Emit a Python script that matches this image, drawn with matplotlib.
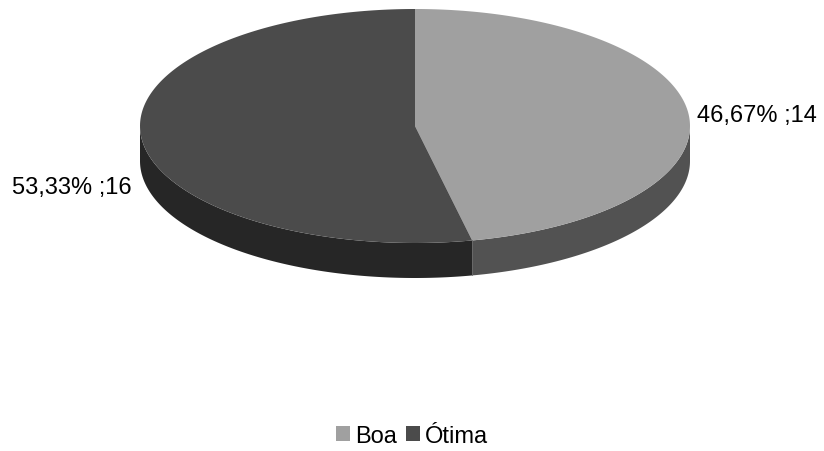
import numpy as np
import matplotlib.pyplot as plt
from matplotlib.patches import Polygon, Patch

plt.rcParams['font.family'] = ['Liberation Sans', 'DejaVu Sans']

categorias = ['Boa', 'Ótima']
valores = [14, 16]
cores_topo = ['#a0a0a0', '#4b4b4b']
cores_lado = ['#525252', '#262626']

# geometria da pizza "3D" (em pixels)
cx, cy = 415, 127
rx, ry = 275, 117
espessura = 35


def borda(t0, t1, n=200):
    t = np.radians(np.linspace(t0, t1, n))
    return cx + rx * np.sin(t), cy - ry * np.cos(t)


fig = plt.figure(figsize=(8.24, 4.52), dpi=100)
ax = fig.add_axes([0, 0, 1, 1])
ax.set_xlim(0, 824)
ax.set_ylim(452, 0)
ax.axis('off')

total = sum(valores)
angulos = np.cumsum([0] + [v / total * 360 for v in valores])

# laterais (só a metade da frente aparece)
for i in range(len(valores)):
    a = max(angulos[i], 90)
    b = min(angulos[i + 1], 270)
    if a >= b:
        continue
    x, y = borda(a, b)
    xs = np.concatenate([x, x[::-1]])
    ys = np.concatenate([y, y[::-1] + espessura])
    ax.add_patch(Polygon(np.column_stack([xs, ys]), closed=True,
                         facecolor=cores_lado[i], edgecolor='none'))

# divisão clara entre as laterais
xd, yd = borda(angulos[1], angulos[1], 1)
ax.plot([xd[0], xd[0]], [yd[0], yd[0] + espessura], color='#6a6a6a', lw=0.6)

# topo
for i in range(len(valores)):
    x, y = borda(angulos[i], angulos[i + 1])
    xs = np.concatenate([[cx], x])
    ys = np.concatenate([[cy], y])
    ax.add_patch(Polygon(np.column_stack([xs, ys]), closed=True,
                         facecolor=cores_topo[i], edgecolor='none'))

# rótulos
rotulos = []
for v in valores:
    pct = ('%.2f' % (v / total * 100)).replace('.', ',')
    rotulos.append('%s%% ;%d' % (pct, v))

ax.text(697, 116, rotulos[0], fontsize=17, ha='left', va='center')
ax.text(132, 188, rotulos[1], fontsize=17, ha='right', va='center')

handles = [Patch(facecolor=c, edgecolor='none') for c in cores_topo]
fig.legend(handles, categorias, loc='center', bbox_to_anchor=(0.5, 1 - 437 / 452),
           ncol=2, frameon=False, fontsize=17, handlelength=0.6, handleheight=0.6,
           handletextpad=0.2, columnspacing=0.4)

fig.savefig('out.png', dpi=100)
